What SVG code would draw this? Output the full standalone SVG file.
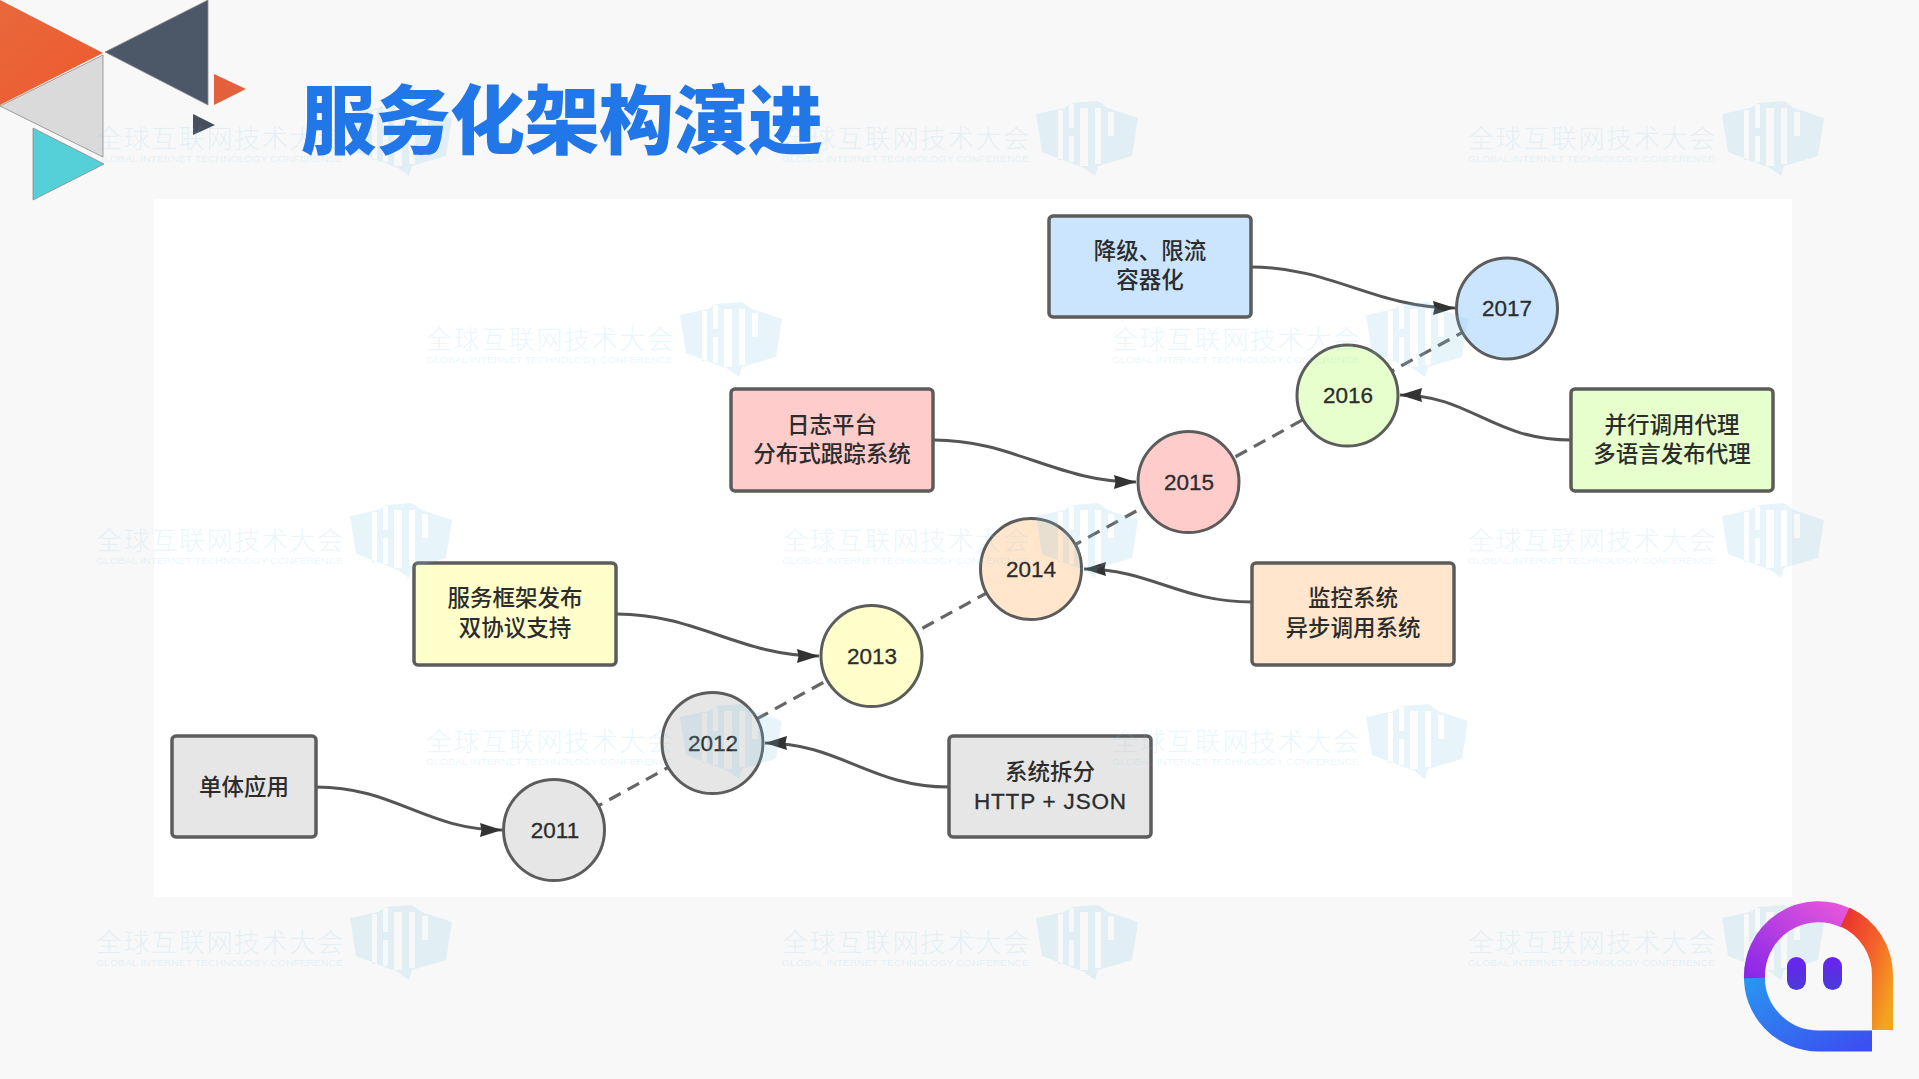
<svg xmlns="http://www.w3.org/2000/svg" xmlns:xlink="http://www.w3.org/1999/xlink" width="1919" height="1079" viewBox="0 0 1919 1079">
<style>
.wmc{font-family:"Noto Sans CJK SC","Noto Sans",sans-serif;font-size:26px;font-weight:300;fill:#7cc8ea;fill-opacity:.18}
.wme{font-family:"Liberation Sans",sans-serif;font-size:9.5px;fill:#7cc8ea;fill-opacity:.18}
.box{stroke:#5c5c5c;stroke-width:3.5}
.circ{stroke:#5c5c5c;stroke-width:3}
.cjk{font-family:"Noto Sans CJK SC","Liberation Sans",sans-serif;font-size:22.5px;font-weight:500;fill:#2c2c2c;text-anchor:middle}
.lat{font-family:"Liberation Sans","Noto Sans CJK SC",sans-serif;font-size:22.5px;fill:#2c2c2c;stroke:#2c2c2c;stroke-width:.3;text-anchor:middle}
.flow{fill:none;stroke:#555;stroke-width:3;marker-end:url(#arr)}
.dash{fill:none;stroke:#666;stroke-width:3.2;stroke-dasharray:13 8}
.tri{stroke:#8a8a8a;stroke-width:.8}
</style>
<defs>
<marker id="arr" markerUnits="userSpaceOnUse" markerWidth="26" markerHeight="18" viewBox="0 0 26 18" refX="25" refY="9" orient="auto">
<path d="M3,2 L25,9 L3,16 L4.5,9 Z" fill="#333"/>
</marker>
<path id="wmlogo" fill="#7cc8ea" fill-opacity=".18" fill-rule="evenodd" d="M0,14 L28,8 L36,3 L62,1 L72,8 L102,18 L96,56 L62,66 L59,76 L48,68 L6,52 Z M22,10 H27 V60 H22 Z M33,4 H38 V28 H33 Z M33,36 H38 V62 H33 Z M44,8 H52 V66 H44 Z M59,8 H65 V64 H59 Z M72,12 H78 V36 H72 Z"/>
<linearGradient id="gb" x1="0" y1="0" x2="1" y2="1"><stop offset="0" stop-color="#2a96f0"/><stop offset="1" stop-color="#3b50f0"/></linearGradient>
<linearGradient id="gp" x1="0" y1="1" x2="1" y2="0"><stop offset="0" stop-color="#8a28e8"/><stop offset="1" stop-color="#e455dc"/></linearGradient>
<linearGradient id="gr" x1="0" y1="0" x2="1" y2="1"><stop offset="0" stop-color="#e8352e"/><stop offset=".5" stop-color="#f4602a"/><stop offset="1" stop-color="#f3a41e"/></linearGradient>
<linearGradient id="ge" x1="0" y1="0" x2="0" y2="1"><stop offset="0" stop-color="#6a22f0"/><stop offset="1" stop-color="#4a3cd8"/></linearGradient>
<linearGradient id="go" x1="0" y1="0" x2="1" y2="1"><stop offset="0" stop-color="#e8683c"/><stop offset="1" stop-color="#ee5a2e"/></linearGradient>
</defs>

<rect width="1919" height="1079" fill="#f8f8f8"/>
<rect x="154" y="199" width="1638" height="698" fill="#fff"/>

<g id="decoration">
<polygon points="0,0 103,53 0,105" fill="url(#go)"/>
<polygon points="103,55 103,157 0,106" fill="#dadada" class="tri"/>
<polygon points="105,52 208,0 208,105" fill="#4c5868" class="tri"/>
<polygon points="214,74 246,89 214,105" fill="#e2603c"/>
<polygon points="193,114 215,125 193,135" fill="#454f5e"/>
<polygon points="33,128 104,164 33,200" fill="#55cfd8" class="tri"/>
</g>

<g id="connectors">
<path class="dash" d="M554,830 L1507,308"/>
<path class="flow" d="M316,787 C395,787 425,830 502,830"/>
<path class="flow" d="M949,787 C870,787 840,743 765,743"/>
<path class="flow" d="M617,614 C696,614 740,656 819,656"/>
<path class="flow" d="M1252,602 C1180,602 1150,569 1084,569"/>
<path class="flow" d="M934,440 C1013,440 1057,482 1136,482"/>
<path class="flow" d="M1571,440 C1492,440 1470,395 1400,395"/>
<path class="flow" d="M1252,267 C1331,267 1375,308 1455,308"/>
</g>

<g id="y2011"><circle class="circ" cx="554" cy="830" r="50.5" fill="#e6e6e6"/><text class="lat" x="555" y="838">2011</text></g>
<g id="y2012"><circle class="circ" cx="712.500" cy="743" r="50.5" fill="#e6e6e6"/><text class="lat" x="713" y="751">2012</text></g>
<g id="y2013"><circle class="circ" cx="871.500" cy="656" r="50.5" fill="#ffffcc"/><text class="lat" x="872" y="664">2013</text></g>
<g id="y2014"><circle class="circ" cx="1031" cy="569" r="50.5" fill="#ffe6cc"/><text class="lat" x="1031" y="577">2014</text></g>
<g id="y2015"><circle class="circ" cx="1188.500" cy="482" r="50.5" fill="#ffcccc"/><text class="lat" x="1189" y="490">2015</text></g>
<g id="y2016"><circle class="circ" cx="1347.500" cy="395.500" r="50.5" fill="#e6ffcc"/><text class="lat" x="1348" y="403">2016</text></g>
<g id="y2017"><circle class="circ" cx="1507" cy="308.500" r="50.5" fill="#cce5ff"/><text class="lat" x="1507" y="316">2017</text></g>

<g id="b-monolith"><rect class="box" x="172" y="736" width="144" height="101" rx="4" fill="#e6e6e6"/><text class="cjk" x="244" y="795">单体应用</text></g>
<g id="b-split"><rect class="box" x="949" y="736" width="202" height="101" rx="4" fill="#e6e6e6"/><text class="cjk" x="1050" y="780">系统拆分</text><text class="lat" x="1050" y="809" textLength="152">HTTP + JSON</text></g>
<g id="b-framework"><rect class="box" x="414" y="563" width="202" height="102" rx="4" fill="#ffffcc"/><text class="cjk" x="515" y="606">服务框架发布</text><text class="cjk" x="515" y="636">双协议支持</text></g>
<g id="b-monitor"><rect class="box" x="1252" y="563" width="202" height="102" rx="4" fill="#ffe6cc"/><text class="cjk" x="1353" y="606">监控系统</text><text class="cjk" x="1353" y="636">异步调用系统</text></g>
<g id="b-log"><rect class="box" x="731" y="389" width="202" height="102" rx="4" fill="#ffcccc"/><text class="cjk" x="832" y="433">日志平台</text><text class="cjk" x="832" y="462">分布式跟踪系统</text></g>
<g id="b-proxy"><rect class="box" x="1571" y="389" width="202" height="102" rx="4" fill="#e6ffcc"/><text class="cjk" x="1672" y="433">并行调用代理</text><text class="cjk" x="1672" y="462">多语言发布代理</text></g>
<g id="b-limit"><rect class="box" x="1049" y="216" width="202" height="101" rx="4" fill="#cce5ff"/><text class="cjk" x="1150" y="259">降级、限流</text><text class="cjk" x="1150" y="288">容器化</text></g>

<g id="watermarks">
<g transform="translate(96,100)"><text class="wmc" y="48" textLength="247">全球互联网技术大会</text><text class="wme" y="62" textLength="247" lengthAdjust="spacingAndGlyphs">GLOBAL INTERNET TECHNOLOGY CONFERENCE</text><use xlink:href="#wmlogo" href="#wmlogo" x="254"/></g>
<g transform="translate(782,100)"><text class="wmc" y="48" textLength="247">全球互联网技术大会</text><text class="wme" y="62" textLength="247" lengthAdjust="spacingAndGlyphs">GLOBAL INTERNET TECHNOLOGY CONFERENCE</text><use xlink:href="#wmlogo" href="#wmlogo" x="254"/></g>
<g transform="translate(1468,100)"><text class="wmc" y="48" textLength="247">全球互联网技术大会</text><text class="wme" y="62" textLength="247" lengthAdjust="spacingAndGlyphs">GLOBAL INTERNET TECHNOLOGY CONFERENCE</text><use xlink:href="#wmlogo" href="#wmlogo" x="254"/></g>
<g transform="translate(426,301)"><text class="wmc" y="48" textLength="247">全球互联网技术大会</text><text class="wme" y="62" textLength="247" lengthAdjust="spacingAndGlyphs">GLOBAL INTERNET TECHNOLOGY CONFERENCE</text><use xlink:href="#wmlogo" href="#wmlogo" x="254"/></g>
<g transform="translate(1112,301)"><text class="wmc" y="48" textLength="247">全球互联网技术大会</text><text class="wme" y="62" textLength="247" lengthAdjust="spacingAndGlyphs">GLOBAL INTERNET TECHNOLOGY CONFERENCE</text><use xlink:href="#wmlogo" href="#wmlogo" x="254"/></g>
<g transform="translate(96,502)"><text class="wmc" y="48" textLength="247">全球互联网技术大会</text><text class="wme" y="62" textLength="247" lengthAdjust="spacingAndGlyphs">GLOBAL INTERNET TECHNOLOGY CONFERENCE</text><use xlink:href="#wmlogo" href="#wmlogo" x="254"/></g>
<g transform="translate(782,502)"><text class="wmc" y="48" textLength="247">全球互联网技术大会</text><text class="wme" y="62" textLength="247" lengthAdjust="spacingAndGlyphs">GLOBAL INTERNET TECHNOLOGY CONFERENCE</text><use xlink:href="#wmlogo" href="#wmlogo" x="254"/></g>
<g transform="translate(1468,502)"><text class="wmc" y="48" textLength="247">全球互联网技术大会</text><text class="wme" y="62" textLength="247" lengthAdjust="spacingAndGlyphs">GLOBAL INTERNET TECHNOLOGY CONFERENCE</text><use xlink:href="#wmlogo" href="#wmlogo" x="254"/></g>
<g transform="translate(426,703)"><text class="wmc" y="48" textLength="247">全球互联网技术大会</text><text class="wme" y="62" textLength="247" lengthAdjust="spacingAndGlyphs">GLOBAL INTERNET TECHNOLOGY CONFERENCE</text><use xlink:href="#wmlogo" href="#wmlogo" x="254"/></g>
<g transform="translate(1112,703)"><text class="wmc" y="48" textLength="247">全球互联网技术大会</text><text class="wme" y="62" textLength="247" lengthAdjust="spacingAndGlyphs">GLOBAL INTERNET TECHNOLOGY CONFERENCE</text><use xlink:href="#wmlogo" href="#wmlogo" x="254"/></g>
<g transform="translate(96,904)"><text class="wmc" y="48" textLength="247">全球互联网技术大会</text><text class="wme" y="62" textLength="247" lengthAdjust="spacingAndGlyphs">GLOBAL INTERNET TECHNOLOGY CONFERENCE</text><use xlink:href="#wmlogo" href="#wmlogo" x="254"/></g>
<g transform="translate(782,904)"><text class="wmc" y="48" textLength="247">全球互联网技术大会</text><text class="wme" y="62" textLength="247" lengthAdjust="spacingAndGlyphs">GLOBAL INTERNET TECHNOLOGY CONFERENCE</text><use xlink:href="#wmlogo" href="#wmlogo" x="254"/></g>
<g transform="translate(1468,904)"><text class="wmc" y="48" textLength="247">全球互联网技术大会</text><text class="wme" y="62" textLength="247" lengthAdjust="spacingAndGlyphs">GLOBAL INTERNET TECHNOLOGY CONFERENCE</text><use xlink:href="#wmlogo" href="#wmlogo" x="254"/></g>
</g>

<text id="title" x="301" y="148" font-family="'Noto Sans CJK SC',sans-serif" font-size="75" font-weight="900" fill="#2176e8" textLength="522">服务化架构演进</text>

<g id="logo" fill="none" stroke-width="21">
<path stroke="url(#gb)" d="M1754.5,974 A64,64 0 0 0 1818.5,1041 H1872"/>
<path stroke="url(#gp)" d="M1754.5,978 A64,64 0 0 1 1846,918"/>
<path stroke="url(#gr)" d="M1845,917 A64,64 0 0 1 1882.5,976 V1030"/>
<rect x="1787" y="957" width="19" height="33" rx="9.5" fill="url(#ge)" stroke="none"/>
<rect x="1823" y="957" width="19" height="33" rx="9.5" fill="url(#ge)" stroke="none"/>
</g>
</svg>
